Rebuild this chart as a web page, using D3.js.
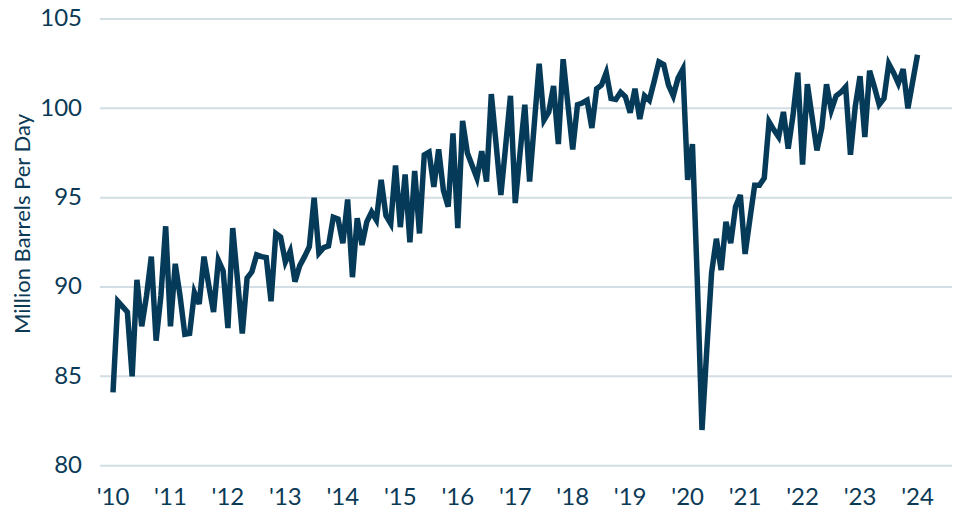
<!DOCTYPE html>
<html>
<head>
<meta charset="utf-8">
<script src="https://cdn.jsdelivr.net/npm/d3@7/dist/d3.min.js"></script>
<style>
  html, body { margin: 0; padding: 0; background: #fff; }
  .chart text { font-family: Lato, "Noto Sans", sans-serif; fill: #0b3a56; }
</style>
</head>
<body>
<div class="chart" id="chart"></div>
<script>
// monthly values, Jan 2010 .. Jan 2024 (million barrels per day)
const y2010 = [84.1, 89.2, 88.9, 88.6, 85.0, 90.4, 87.8, 89.5, 91.7, 87.0, 89.5, 93.4];
const y2011 = [87.8, 91.3, 89.5, 87.35, 87.4, 89.7, 89.05, 91.7, 90.1, 88.6, 91.5, 90.9];
const y2012 = [87.7, 93.3, 90.4, 87.4, 90.5, 90.85, 91.8, 91.7, 91.65, 89.2, 93.0, 92.8];
const y2013 = [91.4, 92.0, 90.3, 91.2, 91.7, 92.25, 95.0, 91.9, 92.2, 92.3, 93.9, 93.8];
const y2014 = [92.45, 94.9, 90.55, 93.85, 92.35, 93.65, 94.2, 93.75, 96.0, 94.0, 93.55, 96.8];
const y2015 = [93.35, 96.3, 92.5, 96.5, 93.0, 97.4, 97.55, 95.6, 97.7, 95.4, 94.5, 98.6];
const y2016 = [93.3, 99.3, 97.5, 96.8, 96.1, 97.6, 95.9, 100.8, 98.0, 95.15, 97.9, 100.7];
const y2017 = [94.7, 97.5, 100.2, 95.9, 99.2, 102.5, 99.35, 99.8, 101.25, 98.0, 102.75, 100.2];
const y2018 = [97.7, 100.2, 100.3, 100.45, 98.9, 101.1, 101.3, 102.0, 100.55, 100.5, 100.9, 100.65];
const y2019 = [99.75, 101.1, 99.4, 100.7, 100.45, 101.5, 102.6, 102.45, 101.3, 100.7, 101.7, 102.2];
const y2020 = [96.0, 98.0, 90.5, 82.0, 86.5, 90.8, 92.7, 90.95, 93.65, 92.45, 94.5, 95.15];
const y2021 = [91.85, 93.8, 95.7, 95.7, 96.1, 99.25, 98.8, 98.4, 99.8, 97.75, 99.6, 102.0];
const y2022 = [96.85, 101.35, 99.5, 97.65, 98.9, 101.35, 99.9, 100.7, 100.9, 101.2, 97.4, 100.1];
const y2023 = [101.8, 98.4, 102.1, 101.2, 100.2, 100.55, 102.5, 102.0, 101.4, 102.2, 100.0, 101.5];
const y2024 = [103.0];

const yTicks = [80, 85, 90, 95, 100, 105];
const xTickLabels = ["'10", "'11", "'12", "'13", "'14", "'15", "'16", "'17", "'18", "'19", "'20", "'21", "'22", "'23", "'24"];
const yTitle = 'Million Barrels Per Day';

const values = [].concat(y2010, y2011, y2012, y2013, y2014, y2015, y2016, y2017,
    y2018, y2019, y2020, y2021, y2022, y2023, y2024);
const data = values.map((v, i) => ({ month: i, value: v }));

const width = 958, height = 510;

const svg = d3.select('#chart').append('svg')
    .attr('width', width)
    .attr('height', height);

const x = d3.scaleLinear()
    .domain([0, (xTickLabels.length - 1) * 12])
    .range([113, 917.5]);

const y = d3.scaleLinear()
    .domain([80, 105])
    .range([465.7, 19]);

// grid lines + y labels
const yAxis = svg.append('g').attr('class', 'axis y');
yAxis.selectAll('line')
    .data(yTicks)
    .enter().append('line')
    .attr('x1', 100)
    .attr('x2', 952)
    .attr('y1', d => y(d))
    .attr('y2', d => y(d))
    .attr('stroke', '#d3dee4')
    .attr('stroke-width', 2);

yAxis.selectAll('text')
    .data(yTicks)
    .enter().append('text')
    .attr('x', 82)
    .attr('y', d => y(d))
    .attr('dy', '0.30em')
    .attr('text-anchor', 'end')
    .style('font-size', '24px')
    .text(d => d);

// x labels, one per January
svg.append('g').attr('class', 'axis x')
    .selectAll('text')
    .data(xTickLabels)
    .enter().append('text')
    .attr('x', (d, i) => x(i * 12))
    .attr('y', 505)
    .attr('text-anchor', 'middle')
    .style('font-size', '24px')
    .text(d => d);

// axis title
svg.append('text')
    .attr('transform', 'translate(30,224) rotate(-90)')
    .attr('text-anchor', 'middle')
    .style('font-size', '22px')
    .text(yTitle);

const line = d3.line()
    .x(d => x(d.month))
    .y(d => y(d.value));

svg.append('path')
    .datum(data)
    .attr('fill', 'none')
    .attr('stroke', '#053b59')
    .attr('stroke-width', 5.5)
    .attr('stroke-linejoin', 'miter')
    .attr('d', line);
</script>
</body>
</html>
